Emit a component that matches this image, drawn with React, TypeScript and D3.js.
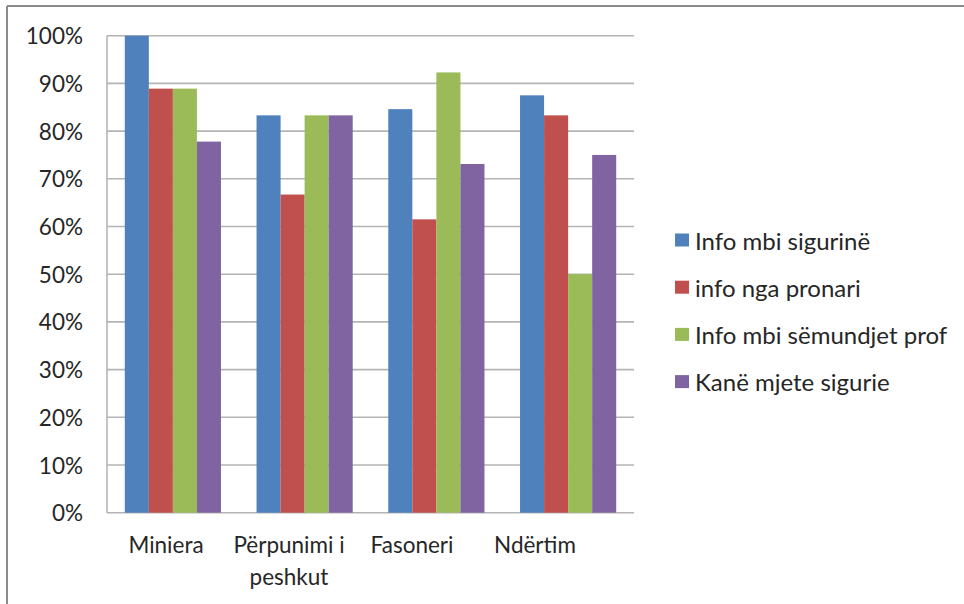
import React from "react";
import * as d3 from "d3";

const categories = ["Miniera", "Përpunimi i peshkut", "Fasoneri", "Ndërtim"];
const categoryLines = [["Miniera"], ["Përpunimi i", "peshkut"], ["Fasoneri"], ["Ndërtim"]];
const seriesNames = [
  "Info mbi sigurinë",
  "info nga pronari",
  "Info mbi sëmundjet prof",
  "Kanë mjete sigurie",
];
const infoSiguri = [100, 83.3, 84.6, 87.5];
const infoPronari = [88.9, 66.7, 61.5, 83.3];
const infoSemundje = [88.9, 83.3, 92.3, 50];
const mjeteSigurie = [77.8, 83.3, 73.1, 75];
const seriesValues = [infoSiguri, infoPronari, infoSemundje, mjeteSigurie];
const yTicks = [0, 10, 20, 30, 40, 50, 60, 70, 80, 90, 100];
const colors = ["#4F81BD", "#C0504D", "#9BBB59", "#8064A2"];

const W = 964;
const H = 604;
const plot = { left: 107, right: 634, top: 35.7, bottom: 512.7 };
const FONT = "Lato, 'Open Sans', sans-serif";
const TEXT = "#262626";

export default function App() {
  const x = d3
    .scaleBand<string>()
    .domain(categories)
    .range([plot.left, plot.right])
    .paddingInner(0.27)
    .paddingOuter(0.135);
  const inner = d3
    .scaleBand<string>()
    .domain(seriesNames)
    .range([0, x.bandwidth()]);
  const y = d3.scaleLinear().domain([0, 100]).range([plot.bottom, plot.top]);
  const labelX = d3
    .scalePoint<string>()
    .domain(categories)
    .range([166, 535]);

  return (
    <svg
      width={W}
      height={H}
      style={{ position: "absolute", left: 0, top: 0, background: "#fff" }}
      fontFamily={FONT}
    >
      <rect x={0} y={0} width={W} height={H} fill="#fff" />
      {/* outer frame (left and top) */}
      <line x1={7} x2={7} y1={6} y2={H} stroke="#8c8c8c" strokeWidth={2} />
      <line x1={7} x2={W} y1={6} y2={6} stroke="#8c8c8c" strokeWidth={2} />

      {/* gridlines */}
      {yTicks.map((t) => (
        <line
          key={"g" + t}
          x1={plot.left}
          x2={plot.right}
          y1={y(t)}
          y2={y(t)}
          stroke="#b4b4b4"
          strokeWidth={1.6}
        />
      ))}
      <line
        x1={plot.left}
        x2={plot.left}
        y1={plot.top}
        y2={plot.bottom}
        stroke="#b4b4b4"
        strokeWidth={1.6}
      />

      {/* y tick labels */}
      {yTicks.map((t) => (
        <text
          key={"t" + t}
          x={83}
          y={y(t)}
          textAnchor="end"
          dominantBaseline="central"
          fontSize={22.5}
          fill={TEXT}
        >
          {t + "%"}
        </text>
      ))}

      {/* bars */}
      {seriesValues.map((vals, si) =>
        vals.map((v, ci) => (
          <rect
            key={si + "-" + ci}
            x={(x(categories[ci]) as number) + (inner(seriesNames[si]) as number)}
            y={y(v)}
            width={inner.bandwidth()}
            height={y(0) - y(v)}
            fill={colors[si]}
          />
        ))
      )}

      {/* x labels */}
      {categories.map((c, ci) =>
        categoryLines[ci].map((line, li) => (
          <text
            key={c + li}
            x={labelX(c) as number}
            y={553 + li * 32}
            textAnchor="middle"
            fontSize={22.5}
            fill={TEXT}
          >
            {line}
          </text>
        ))
      )}

      {/* legend */}
      {seriesNames.map((s, i) => (
        <g key={s} transform={`translate(675, ${240 + i * 47.2})`}>
          <rect x={0} y={-6.5} width={14} height={13} fill={colors[i]} />
          <text
            x={20}
            y={0}
            dominantBaseline="central"
            fontSize={24}
            fill={TEXT}
          >
            {s}
          </text>
        </g>
      ))}
    </svg>
  );
}
